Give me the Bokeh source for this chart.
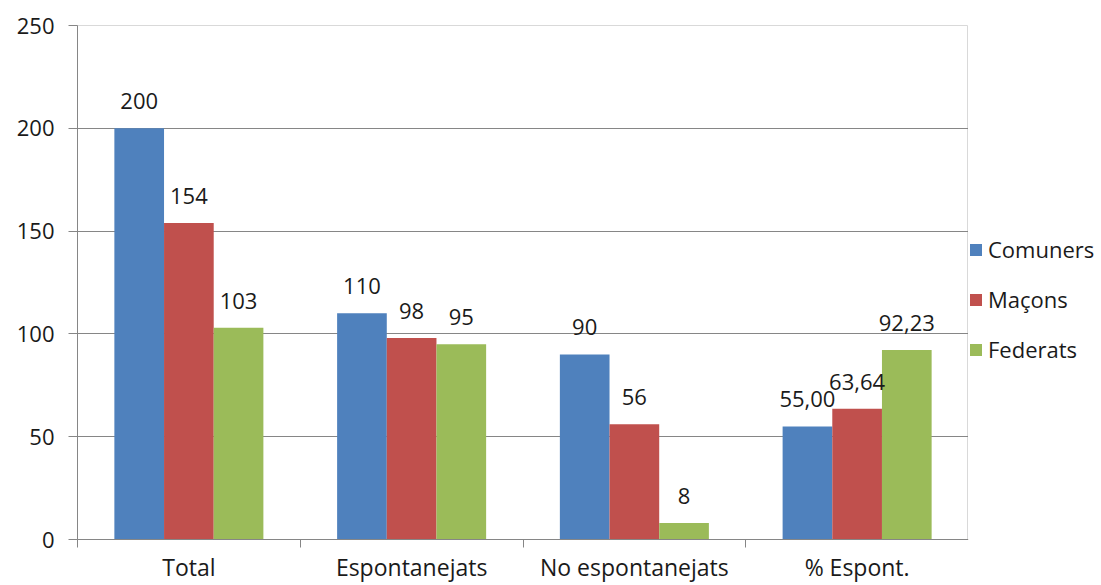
from bokeh.plotting import figure
from bokeh.layouts import row
from bokeh.models import Range1d, FixedTicker, ColumnDataSource, Legend, LegendItem, LabelSet
from bokeh.core.properties import value
from bokeh.embed import file_html
from bokeh.resources import INLINE

categories = ["Total", "Espontanejats", "No espontanejats", "% Espont."]
series = ["Comuners", "Maçons", "Federats"]
comuners = [200, 110, 90, 55.00]
macons = [154, 98, 56, 63.64]
federats = [103, 95, 8, 92.23]
colors = ["#4F81BD", "#C0504D", "#9BBB59"]
y_ticks = [0, 50, 100, 150, 200, 250]

FONT = "Open Sans"
FS = "22px"

p = figure(width=968, height=585, output_backend="svg", toolbar_location=None,
           x_range=Range1d(0, 4), y_range=Range1d(0, 250),
           min_border_left=77, min_border_right=0, min_border_top=25, min_border_bottom=45)
p.outline_line_color = "#D9D9D9"
p.outline_line_width = 1
p.background_fill_color = "white"
p.border_fill_color = "white"

# y axis
p.yaxis.ticker = FixedTicker(ticks=y_ticks)
p.yaxis.major_tick_out = 9
p.yaxis.major_tick_in = 0
p.yaxis.minor_tick_line_color = None
p.yaxis.axis_line_color = "#868686"
p.yaxis.major_tick_line_color = "#868686"
p.yaxis.major_label_text_font = FONT
p.yaxis.major_label_text_font_size = FS
p.yaxis.major_label_text_color = "#1a1a1a"
p.yaxis.major_label_standoff = 14

# x axis: labels at centers, ticks at boundaries (minor ticks)
centers = [i + 0.5 for i in range(len(categories))]
p.xaxis.ticker = FixedTicker(ticks=centers, minor_ticks=[0, 1, 2, 3, 4])
p.xaxis.major_label_overrides = {c: lab for c, lab in zip(centers, categories)}
p.xaxis.major_tick_line_color = None
p.xaxis.major_tick_out = 0
p.xaxis.major_tick_in = 0
p.xaxis.minor_tick_out = 8
p.xaxis.minor_tick_in = 0
p.xaxis.minor_tick_line_color = "#868686"
p.xaxis.axis_line_color = "#868686"
p.xaxis.major_label_text_font = FONT
p.xaxis.major_label_text_font_size = "23px"
p.xaxis.major_label_text_color = "#1a1a1a"
p.xaxis.major_label_standoff = 3

p.xgrid.grid_line_color = None
p.ygrid.ticker = FixedTicker(ticks=y_ticks[1:])
p.ygrid.grid_line_color = "#868686"
p.ygrid.grid_line_width = 1

# legend-only companion figure
pl = figure(width=133, height=585, output_backend="svg", toolbar_location=None,
            x_range=Range1d(0, 1), y_range=Range1d(0, 1),
            min_border_left=0, min_border_right=0, min_border_top=0, min_border_bottom=0)
pl.axis.visible = False
pl.grid.visible = False
pl.outline_line_color = None
pl.border_fill_color = "white"
pl.background_fill_color = "white"

bw = 0.223
offsets = [-bw, 0, bw]
items = []
for vals, name, col, off in zip([comuners, macons, federats], series, colors, offsets):
    labels = []
    for i, v in enumerate(vals):
        if categories[i].startswith("%"):
            labels.append(f"{v:.2f}".replace(".", ","))
        else:
            labels.append(f"{v:.0f}")
    src = ColumnDataSource(dict(x=[c + off for c in centers], top=vals, lab=labels))
    p.vbar(x="x", top="top", width=bw, bottom=0, source=src, fill_color=col, line_color=None)
    ls = LabelSet(x="x", y="top", text="lab", source=src, text_align="center",
                  text_baseline="bottom", y_offset=19, text_font=value(FONT),
                  text_font_size=FS, text_color="#1a1a1a")
    p.add_layout(ls)
    # swatch renderer for the legend, placed outside the visible range
    swatch = pl.vbar(x=[-5], top=[-4], bottom=[-5], width=0.1, fill_color=col, line_color=None)
    items.append(LegendItem(label=name, renderers=[swatch]))

legend = Legend(items=items, location=(0, 175), orientation="vertical",
                padding=0, margin=0, spacing=20, glyph_width=15, glyph_height=15,
                label_standoff=5, label_height=20,
                label_text_font=FONT, label_text_font_size=FS, label_text_color="#1a1a1a",
                border_line_color=None, background_fill_alpha=0)
pl.add_layout(legend)

layout = row(p, pl, spacing=0)
open("out.html", "w").write(file_html(layout, INLINE))
